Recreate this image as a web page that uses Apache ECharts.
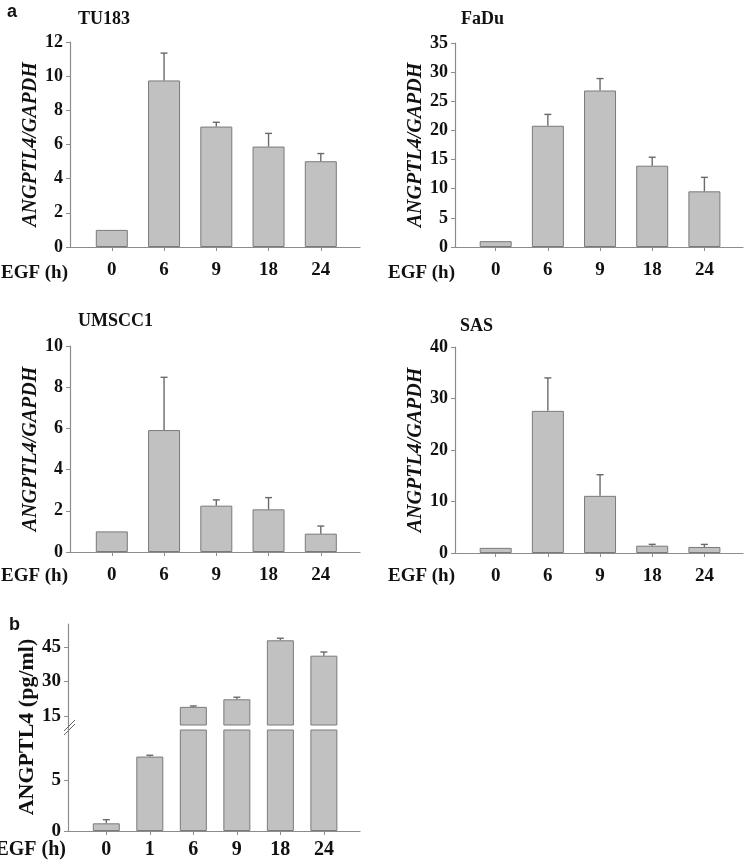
<!DOCTYPE html>
<html>
<head>
<meta charset="utf-8">
<script src="https://cdn.jsdelivr.net/npm/echarts@6/dist/echarts.min.js"></script>
<style>
html,body{margin:0;padding:0;background:#fff;}
#chart{width:746px;height:865px;}
</style>
</head>
<body>
<div id="chart"></div>
<script>
// ---- data ----
const catsA = ['0', '6', '9', '18', '24'];
const catsB = ['0', '1', '6', '9', '18', '24'];

const tu183 = [1.0, 9.75, 7.05, 5.88, 5.02];
const tu183Sd = [0, 1.6, 0.25, 0.77, 0.45];

const fadu = [1.0, 20.8, 26.85, 13.95, 9.55];
const faduSd = [0, 1.95, 2.05, 1.45, 2.4];

const umscc1 = [1.0, 5.92, 2.25, 2.07, 0.89];
const umscc1Sd = [0, 2.56, 0.28, 0.57, 0.37];

const sas = [1.0, 27.6, 11.1, 1.42, 1.17];
const sasSd = [0, 6.4, 4.1, 0.26, 0.5];

const protein = [0.76, 7.37, 18.9, 22.2, 47.9, 41.2];
const proteinSd = [0.36, 0.13, 0.4, 0.9, 0.9, 1.6];

const ticksA1 = {max: 12, interval: 2};
const ticksA2 = {max: 35, interval: 5};
const ticksA3 = {max: 10, interval: 2};
const ticksA4 = {max: 40, interval: 10};
const ticksBUpper = [15, 30, 45];
const ticksBLower = [0, 5];

// ---- styles ----
const SERIF = '"Liberation Serif", "Times New Roman", serif';
const TXT = '#111';
const AXC = '#8c8c8c';
const BAR_FILL = '#c1c1c1';
const BAR_EDGE = '#7a7a7a';
const ERR = '#6a6a6a';

const chart = echarts.init(document.getElementById('chart'), null, {renderer: 'canvas'});

function xAx(gi, cats, min, max, show) {
  const idx = cats.map((c, i) => i);
  return {
    type: 'value', gridIndex: gi, min: min, max: max,
    splitLine: {show: false},
    axisLine: {show: show, onZero: false, lineStyle: {color: AXC, width: 1.2}},
    axisTick: {show: show, customValues: idx, length: 4, lineStyle: {color: AXC}},
    axisLabel: {show: show, customValues: idx, margin: 14,
      formatter: v => cats[Math.round(v)],
      fontFamily: SERIF, fontWeight: 'bold', fontSize: 19, color: TXT}
  };
}
function yAx(gi, max, interval, name, opts) {
  const o = {
    type: 'value', gridIndex: gi, min: 0, max: max, interval: interval,
    splitLine: {show: false},
    axisLine: {show: true, onZero: false, lineStyle: {color: AXC, width: 1.2}},
    axisTick: {show: true, length: 4, lineStyle: {color: AXC}},
    axisLabel: {margin: 7, fontFamily: SERIF, fontWeight: 'bold', fontSize: 18, color: TXT},
    name: name, nameLocation: 'middle', nameRotate: 90, nameGap: 27,
    nameTextStyle: {fontFamily: SERIF, fontWeight: 'bold', fontStyle: 'italic', fontSize: 20, color: TXT}
  };
  return Object.assign(o, opts || {});
}
function barSeries(gi, vals, bw) {
  return {
    type: 'bar', xAxisIndex: gi, yAxisIndex: gi, barWidth: bw, clip: true,
    itemStyle: {color: BAR_FILL, borderColor: BAR_EDGE, borderWidth: 1},
    data: vals.map((v, i) => [i, v]), silent: true, z: 2
  };
}
function errSeries(gi, data) {
  return {
    type: 'custom', xAxisIndex: gi, yAxisIndex: gi, z: 3, silent: true,
    data: data,
    renderItem: function (params, api) {
      const x = api.value(0), v = api.value(1), e = api.value(2);
      if (!(e > 0)) return null;
      const p0 = api.coord([x, v]);
      const p1 = api.coord([x, v + e]);
      return {
        type: 'group',
        children: [
          {type: 'line', shape: {x1: p0[0], y1: p0[1], x2: p1[0], y2: p1[1]},
            style: {stroke: ERR, lineWidth: 1.4}},
          {type: 'line', shape: {x1: p1[0] - 3.5, y1: p1[1], x2: p1[0] + 3.5, y2: p1[1]},
            style: {stroke: ERR, lineWidth: 1.4}}
        ]
      };
    }
  };
}
const errData = (vals, sds) => vals.map((v, i) => [i, v, sds[i]]);

const grids = [
  {left: 70, top: 42, width: 290, height: 205},
  {left: 455, top: 43, width: 288, height: 204},
  {left: 70, top: 346, width: 290, height: 206},
  {left: 455, top: 347, width: 288, height: 206},
  {left: 68, top: 624, width: 292, height: 101},
  {left: 68, top: 730, width: 292, height: 101}
];

const yName = 'ANGPTL4/GAPDH';
const yAxes = [
  yAx(0, ticksA1.max, ticksA1.interval, yName),
  yAx(1, ticksA2.max, ticksA2.interval, yName),
  yAx(2, ticksA3.max, ticksA3.interval, yName),
  yAx(3, ticksA4.max, ticksA4.interval, yName),
  yAx(4, 55, null, '', {min: 11, interval: undefined,
    axisTick: {show: true, length: 4, customValues: ticksBUpper, lineStyle: {color: AXC}},
    axisLabel: {margin: 7, customValues: ticksBUpper, fontFamily: SERIF, fontWeight: 'bold', fontSize: 19, color: TXT}}),
  yAx(5, 10, null, '', {interval: undefined,
    axisTick: {show: true, length: 4, customValues: ticksBLower, lineStyle: {color: AXC}},
    axisLabel: {margin: 7, customValues: ticksBLower, fontFamily: SERIF, fontWeight: 'bold', fontSize: 19, color: TXT}})
];

const xAxes = [
  xAx(0, catsA, -0.8, 4.75, true),
  xAx(1, catsA, -0.78, 4.74, true),
  xAx(2, catsA, -0.8, 4.75, true),
  xAx(3, catsA, -0.78, 4.74, true),
  xAx(4, catsB, -0.88, 5.83, false),
  xAx(5, catsB, -0.88, 5.83, true)
];
xAxes[5].axisLabel.fontSize = 20;
xAxes[5].axisLabel.margin = 9;

const bIdx = protein.map((v, i) => [i, v, proteinSd[i]]);

const series = [
  barSeries(0, tu183, 32), errSeries(0, errData(tu183, tu183Sd)),
  barSeries(1, fadu, 32), errSeries(1, errData(fadu, faduSd)),
  barSeries(2, umscc1, 32), errSeries(2, errData(umscc1, umscc1Sd)),
  barSeries(3, sas, 32), errSeries(3, errData(sas, sasSd)),
  barSeries(4, protein, 27), errSeries(4, bIdx.filter(d => d[1] > 10)),
  barSeries(5, protein, 27), errSeries(5, bIdx.filter(d => d[1] <= 10))
];

const titleStyle = {fontFamily: SERIF, fontWeight: 'bold', fontSize: 18, color: TXT};
const letterStyle = {fontFamily: '"Liberation Sans", Arial, sans-serif', fontWeight: 'bold', fontSize: 18, color: TXT};

function egf(x, y, size) {
  return {type: 'text', x: x, y: y, style: {text: 'EGF (h)', align: 'right', verticalAlign: 'middle',
    font: 'bold ' + size + 'px ' + SERIF, fill: TXT}};
}

chart.setOption({
  backgroundColor: '#fff',
  animation: false,
  title: [
    {text: 'a', left: 2, top: -2, textStyle: letterStyle},
    {text: 'TU183', left: 73, top: 5, textStyle: titleStyle},
    {text: 'FaDu', left: 456, top: 5, textStyle: titleStyle},
    {text: 'UMSCC1', left: 73, top: 307, textStyle: titleStyle},
    {text: 'SAS', left: 455, top: 312, textStyle: titleStyle},
    {text: 'b', left: 4, top: 611, textStyle: letterStyle}
  ],
  grid: grids,
  xAxis: xAxes,
  yAxis: yAxes,
  series: series,
  graphic: [
    egf(68, 273, 19), egf(455, 273, 19), egf(68, 576, 19), egf(455, 576, 19), egf(66, 850, 20),
    {type: 'text', x: 27, y: 727, rotation: Math.PI / 2,
      style: {text: 'ANGPTL4 (pg/ml)', align: 'center', verticalAlign: 'middle',
        font: 'bold 22px ' + SERIF, fill: TXT}},
    {type: 'line', shape: {x1: 68.5, y1: 724, x2: 68.5, y2: 731}, style: {stroke: AXC, lineWidth: 1.2}},
    {type: 'line', shape: {x1: 64, y1: 731, x2: 75, y2: 720}, style: {stroke: '#666', lineWidth: 1}},
    {type: 'line', shape: {x1: 64, y1: 735, x2: 75, y2: 724}, style: {stroke: '#666', lineWidth: 1}}
  ]
});
</script>
</body>
</html>
